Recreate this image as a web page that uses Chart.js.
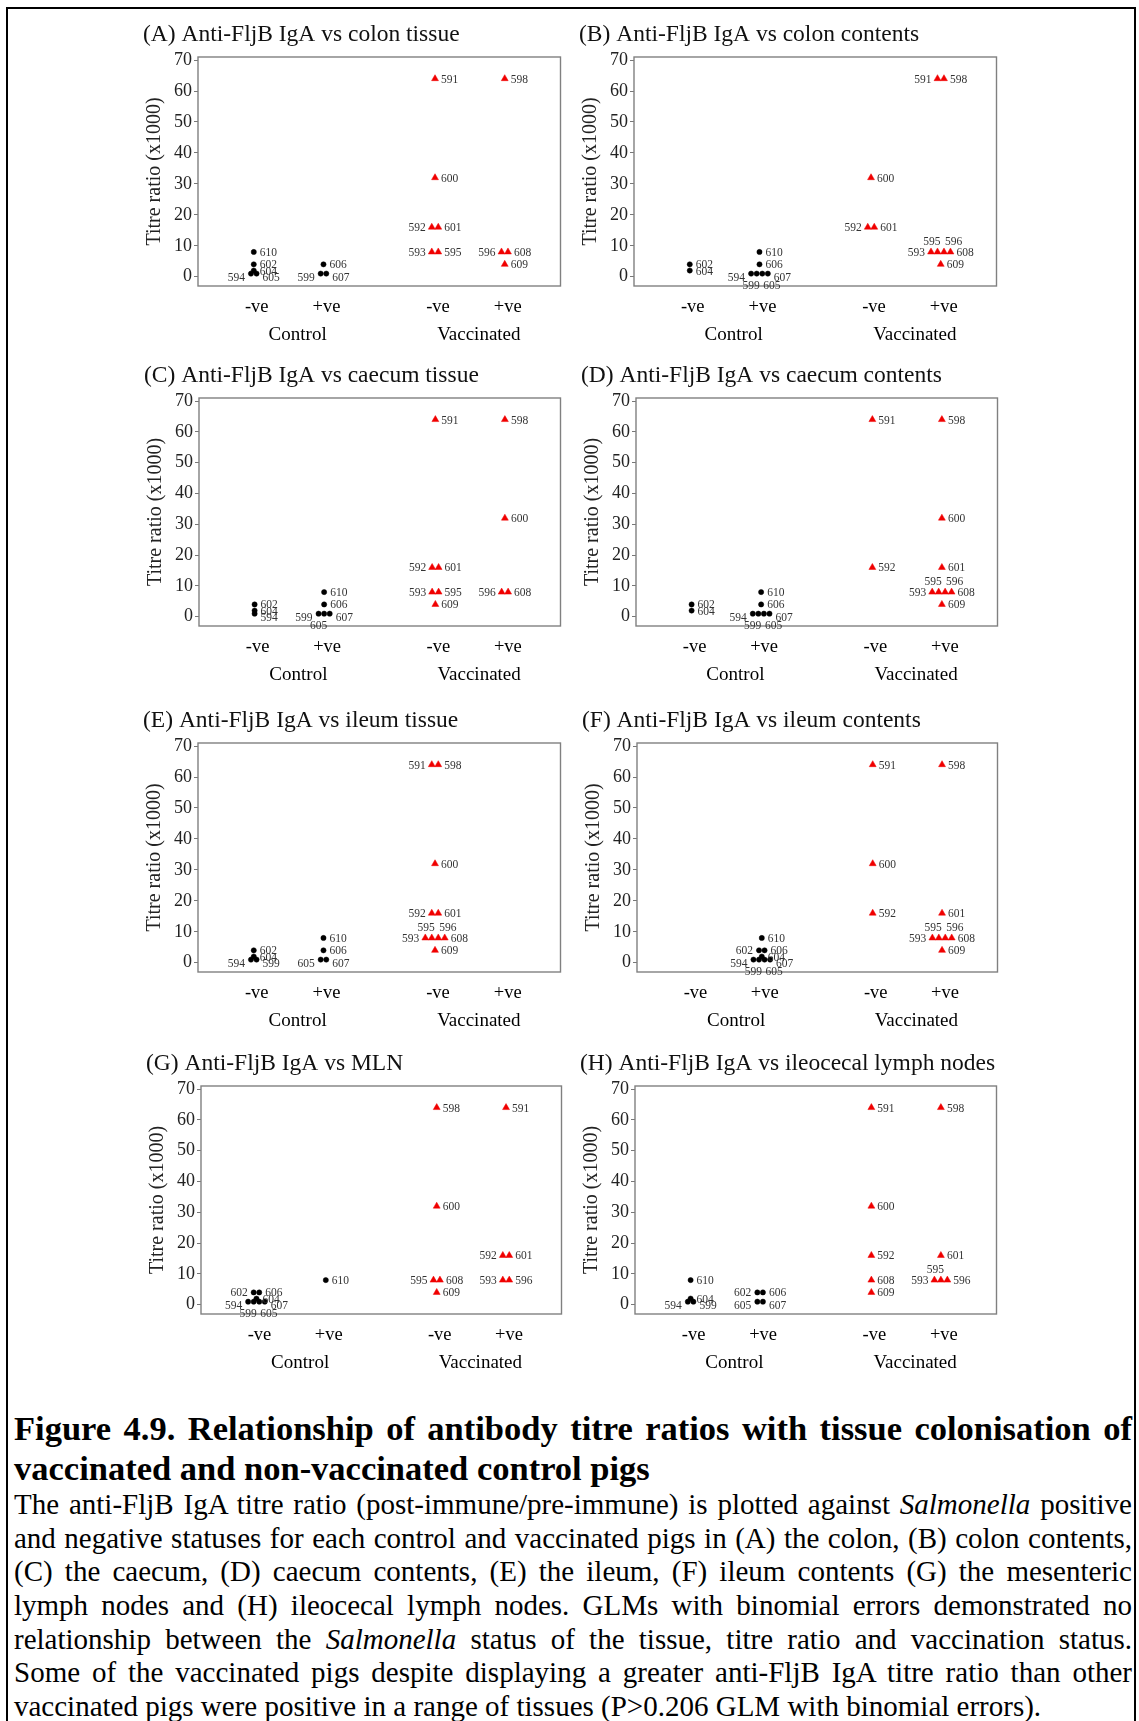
<!DOCTYPE html>
<html>
<head>
<meta charset="utf-8">
<title>Figure 4.9 - anti-FljB IgA titre ratios</title>
<script src="https://cdn.jsdelivr.net/npm/chart.js@4.4.1/dist/chart.umd.min.js"></script>
<style>
  html, body { margin: 0; padding: 0; background: #fff; }
  #page {
    position: relative; width: 1139px; height: 1721px; overflow: hidden;
    font-family: "Liberation Serif", "Times New Roman", serif; color: #000;
  }
  #frame {
    position: absolute; left: 6px; top: 7px; width: 1126px; height: 1800px;
    border: 2.5px solid #000; border-bottom: none;
  }
  canvas { position: absolute; }
  .caption { position: absolute; left: 14px; width: 1118px; }
  .caption div { text-align: justify; text-align-last: justify; }
  .caption div.last { text-align: left; text-align-last: left; }
  .heading { font-weight: bold; font-size: 34.5px; line-height: 39.5px; }
  .body { font-size: 29px; line-height: 33.65px; }
</style>
</head>
<body>
<div id="page">
  <div id="frame"></div>

  <canvas id="panel0"></canvas>
  <canvas id="panel1"></canvas>
  <canvas id="panel2"></canvas>
  <canvas id="panel3"></canvas>
  <canvas id="panel4"></canvas>
  <canvas id="panel5"></canvas>
  <canvas id="panel6"></canvas>
  <canvas id="panel7"></canvas>

  <div class="caption heading" style="top:1409px">
    <div>Figure 4.9. Relationship of antibody titre ratios with tissue colonisation of</div>
    <div class="last">vaccinated and non-vaccinated control pigs</div>
  </div>
  <div class="caption body" style="top:1488px">
    <div>The anti-FljB IgA titre ratio (post-immune/pre-immune) is plotted against <i>Salmonella</i> positive</div>
    <div>and negative statuses for each control and vaccinated pigs in (A) the colon, (B) colon contents,</div>
    <div>(C) the caecum, (D) caecum contents, (E) the ileum, (F) ileum contents (G) the mesenteric</div>
    <div>lymph nodes and (H) ileocecal lymph nodes. GLMs with binomial errors demonstrated no</div>
    <div>relationship between the <i>Salmonella</i> status of the tissue, titre ratio and vaccination status.</div>
    <div>Some of the vaccinated pigs despite displaying a greater anti-FljB IgA titre ratio than other</div>
    <div class="last">vaccinated pigs were positive in a range of tissues (P&gt;0.206 GLM with binomial errors).</div>
  </div>
</div>

<script>
// pigs, their treatment group and anti-FljB IgA titre ratio (x1000)
const pigs       = [594, 599, 602, 604, 605, 606, 607, 610, 591, 592, 593, 595, 596, 598, 600, 601, 608, 609];
const treatment  = ['C', 'C', 'C', 'C', 'C', 'C', 'C', 'C', 'V', 'V', 'V', 'V', 'V', 'V', 'V', 'V', 'V', 'V'];
const titreRatio = [1, 1, 4, 2, 1, 4, 1, 8, 64, 16, 8, 8, 8, 64, 32, 16, 8, 4];

// Salmonella status of each pig per tissue (1 = positive, 0 = negative), same order as pigs
const statusColonTissue     = [0, 1, 0, 0, 0, 1, 1, 0,  0, 0, 0, 0, 1, 1, 0, 0, 1, 1];
const statusColonContents   = [1, 1, 0, 0, 1, 1, 1, 1,  1, 0, 1, 1, 1, 1, 0, 0, 1, 1];
const statusCaecumTissue    = [0, 1, 0, 0, 1, 1, 1, 1,  0, 0, 0, 0, 1, 1, 1, 0, 1, 0];
const statusCaecumContents  = [1, 1, 0, 0, 1, 1, 1, 1,  0, 0, 1, 1, 1, 1, 1, 1, 1, 1];
const statusIleumTissue     = [0, 0, 0, 0, 1, 1, 1, 1,  0, 0, 0, 0, 0, 0, 0, 0, 0, 0];
const statusIleumContents   = [1, 1, 1, 1, 1, 1, 1, 1,  0, 0, 1, 1, 1, 1, 0, 1, 1, 1];
const statusMLN             = [0, 0, 0, 0, 0, 0, 0, 1,  1, 1, 1, 0, 1, 0, 0, 1, 0, 0];
const statusIleocecalLN     = [0, 0, 1, 0, 1, 1, 1, 0,  0, 0, 1, 1, 1, 1, 0, 1, 0, 0];

const panelTitles = [
  '(A) Anti-FljB IgA vs colon tissue',
  '(B) Anti-FljB IgA vs colon contents',
  '(C) Anti-FljB IgA vs caecum tissue',
  '(D) Anti-FljB IgA vs caecum contents',
  '(E) Anti-FljB IgA vs ileum tissue',
  '(F) Anti-FljB IgA vs ileum contents',
  '(G) Anti-FljB IgA vs MLN',
  '(H) Anti-FljB IgA vs ileocecal lymph nodes'
];
const panelStatus = [statusColonTissue, statusColonContents, statusCaecumTissue, statusCaecumContents,
                     statusIleumTissue, statusIleumContents, statusMLN, statusIleocecalLN];

const statusLabels = ['-ve', '+ve', '-ve', '+ve'];
const groupLabels = ['Control', 'Vaccinated'];
const yTicks = [0, 10, 20, 30, 40, 50, 60, 70];

// plot box of each panel on the page: left, top, right, bottom
const plotBoxes = [
  [198, 57, 562, 286], [634, 57, 998, 286],
  [199, 398, 562, 626], [636, 398, 999, 626],
  [198, 743, 562, 972], [637, 743, 999, 972],
  [201, 1086, 563, 1314], [635, 1086, 998, 1314]
];

const FONT = '"Liberation Serif", "Times New Roman", serif';
Chart.defaults.font.family = FONT;
Chart.defaults.color = '#222';

const X_MIN = 0.2, X_MAX = 5.4;
// -ve / +ve columns, with a wider gap between Control and Vaccinated
function columnX(group, status) {
  return (group === 'V' ? 3.6 : 1) + status;
}
const columnTicks = [columnX('C', 0), columnX('C', 1), columnX('V', 0), columnX('V', 1)];
const groupTicks = [(columnTicks[0] + columnTicks[1]) / 2, (columnTicks[2] + columnTicks[3]) / 2];

// pigs sharing a column and a titre are set side by side, like a dot plot
function buildPoints(status) {
  const clusters = {};
  pigs.forEach((id, i) => {
    const key = treatment[i] + status[i] + '_' + titreRatio[i];
    (clusters[key] = clusters[key] || []).push(i);
  });
  const control = [], vaccinated = [];
  Object.values(clusters).forEach(members => {
    const n = members.length;
    members.forEach((i, k) => {
      const step = treatment[i] === 'V' ? 0.093 : 0.08;
      const low = titreRatio[i] <= 1;
      let side = 'r';
      if (n > 1) {
        if (k === 0) side = 'l';
        else if (k === n - 1) side = 'r';
        else side = (low ? 'b' : 'a') + (k % 2 ? 'L' : 'R');
      }
      const pt = {
        x: columnX(treatment[i], status[i]) + (k - (n - 1) / 2) * step,
        y: titreRatio[i],
        pig: pigs[i],
        side: side,
        low: low
      };
      (treatment[i] === 'V' ? vaccinated : control).push(pt);
    });
  });
  return { control, vaccinated };
}

const plotFrame = {
  id: 'plotFrame',
  beforeDatasetsDraw(chart) {
    const { left, top, right, bottom } = chart.chartArea;
    const ctx = chart.ctx;
    ctx.save();
    ctx.strokeStyle = '#808080';
    ctx.lineWidth = 1.4;
    ctx.strokeRect(left, top, right - left, bottom - top);
    ctx.restore();
  }
};

const pigLabels = {
  id: 'pigLabels',
  afterDatasetsDraw(chart) {
    const ctx = chart.ctx;
    ctx.save();
    ctx.font = '11.5px ' + FONT;
    ctx.fillStyle = '#333';
    ctx.textBaseline = 'middle';
    chart.data.datasets.forEach((ds, di) => {
      chart.getDatasetMeta(di).data.forEach((el, j) => {
        const d = ds.data[j];
        let x = el.x, y = el.y + (d.low ? 4 : 1);
        const s = d.side;
        if (s === 'r') { ctx.textAlign = 'left'; x += 6; }
        else if (s === 'l') { ctx.textAlign = 'right'; x -= 6; }
        else {
          ctx.textAlign = s[1] === 'L' ? 'right' : 'left';
          x += s[1] === 'L' ? 3 : 1;
          y += s[0] === 'a' ? -11 : 8;
        }
        ctx.fillText(String(d.pig), x, y);
      });
    });
    ctx.restore();
  }
};

function makePanel(p) {
  const [L, T, R, B] = plotBoxes[p];
  const canvas = document.getElementById('panel' + p);
  const left = L - 59, top = T - 37;
  canvas.width = R - L + 62;
  canvas.height = B - T + 101;
  canvas.style.left = left + 'px';
  canvas.style.top = top + 'px';
  canvas.style.width = canvas.width + 'px';
  canvas.style.height = canvas.height + 'px';

  const pts = buildPoints(panelStatus[p]);

  new Chart(canvas, {
    type: 'scatter',
    data: {
      datasets: [
        {
          label: 'Control',
          data: pts.control,
          pointStyle: 'circle',
          pointRadius: 2.6,
          pointBackgroundColor: '#000',
          pointBorderColor: '#000',
          pointBorderWidth: 0.5,
          xAxisID: 'x',
          yAxisID: 'y'
        },
        {
          label: 'Vaccinated',
          data: pts.vaccinated,
          pointStyle: 'triangle',
          pointRadius: 4,
          pointBackgroundColor: '#f00000',
          pointBorderColor: '#f00000',
          pointBorderWidth: 0.5,
          xAxisID: 'x',
          yAxisID: 'y'
        }
      ]
    },
    options: {
      responsive: false,
      animation: false,
      devicePixelRatio: 1,
      layout: { padding: { left: 4, right: 3, top: 0, bottom: 0 } },
      plugins: {
        legend: { display: false },
        tooltip: { enabled: false },
        title: {
          display: true,
          text: panelTitles[p],
          align: 'start',
          color: '#111',
          font: { size: 23.5, weight: 'normal' },
          padding: { top: 0.6, bottom: 8.2 }
        }
      },
      scales: {
        x: {
          type: 'linear',
          position: 'bottom',
          weight: 0,
          min: X_MIN,
          max: X_MAX,
          afterBuildTicks: axis => { axis.ticks = columnTicks.map(v => ({ value: v })); },
          ticks: {
            autoSkip: false,
            maxRotation: 0,
            padding: 10,
            labelOffset: 3,
            color: '#000',
            font: { size: 18.5 },
            callback: (value, index) => statusLabels[index]
          },
          grid: { display: false, drawTicks: false },
          border: { display: false },
          afterFit: axis => { axis.height = 36; }
        },
        x2: {
          type: 'linear',
          position: 'bottom',
          weight: 1,
          min: X_MIN,
          max: X_MAX,
          afterBuildTicks: axis => { axis.ticks = groupTicks.map(v => ({ value: v })); },
          ticks: {
            autoSkip: false,
            maxRotation: 0,
            padding: 2,
            labelOffset: 9,
            color: '#000',
            font: { size: 19 },
            callback: (value, index) => groupLabels[index]
          },
          grid: { display: false, drawTicks: false },
          border: { display: false },
          afterFit: axis => { axis.height = 28; }
        },
        y: {
          type: 'linear',
          min: -3,
          max: 71,
          afterBuildTicks: axis => { axis.ticks = yTicks.map(v => ({ value: v })); },
          ticks: { padding: 2, color: '#222', font: { size: 18 } },
          grid: { drawOnChartArea: false, drawTicks: true, tickLength: 4, color: '#777' },
          border: { display: false },
          title: {
            display: true,
            text: 'Titre ratio (x1000)',
            color: '#222',
            font: { size: 20 },
            padding: { top: 0, bottom: 0 }
          },
          afterFit: axis => { axis.width = 55; }
        }
      }
    },
    plugins: [plotFrame, pigLabels]
  });
}

for (let p = 0; p < plotBoxes.length; p++) makePanel(p);
</script>
</body>
</html>
